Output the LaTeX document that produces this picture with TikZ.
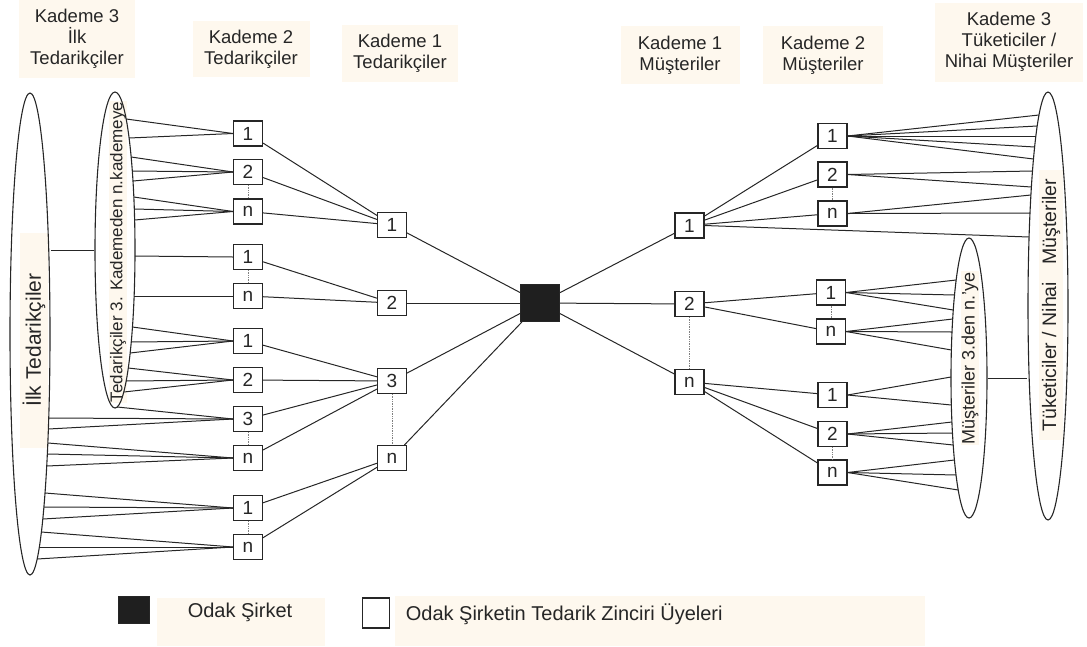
\documentclass[tikz,border=0pt]{standalone}
\usepackage{fontspec}
\setmainfont{Liberation Sans}
\usepackage{tikz}
\usetikzlibrary{arrows,shapes.geometric}
\definecolor{krem}{RGB}{254,248,238}

\begin{document}
\begin{tikzpicture}[x=1pt,y=-1pt,line width=1pt,color=black!85,
	kutu/.style={draw,fill=white,minimum width=29,minimum height=25,inner sep=0pt,line width=1.1pt,font=\fontsize{19}{19}\selectfont},
	odak/.style={draw,fill=black!88,minimum width=39,minimum height=37},
	baslik/.style={fill=krem,align=center,inner sep=0pt,font=\fontsize{18.5}{21}\selectfont},
	elips/.style={draw,ellipse,inner sep=0pt,line width=1.1pt},
	etiket/.style={fill=krem,rotate=90,inner sep=1pt},
	nokta/.style={densely dotted,draw=gray,line width=0.7pt}]
	\useasboundingbox (0,0) rectangle (1087,646);

	% basliklar
	\node[baslik,minimum width=116,minimum height=78] (h1) at (77,39) {Kademe 3\\İlk\\Tedarikçiler};
	\node[baslik,minimum width=117,minimum height=56] (h2) at (251,49) {Kademe 2\\Tedarikçiler};
	\node[baslik,minimum width=116,minimum height=57] (h3) at (400,53) {Kademe 1\\Tedarikçiler};
	\node[baslik,minimum width=119,minimum height=58] (h4) at (680,55) {Kademe 1\\Müşteriler};
	\node[baslik,minimum width=120,minimum height=58] (h5) at (823,55) {Kademe 2\\Müşteriler};
	\node[baslik,minimum width=148,minimum height=79] (h6) at (1009,42) {Kademe 3\\Tüketiciler /\\Nihai Müşteriler};

	% elips yazilari
	\node[etiket,font=\fontsize{21}{21}\selectfont,minimum width=215,minimum height=28] (ilkyazi) at (34,340) {İlk Tedarikçiler};
	\node[etiket,font=\fontsize{17}{17}\selectfont] (arayazi) at (118,252) {Tedarikçiler 3. Kademeden n.kademeye};
	\node[etiket,font=\fontsize{19.5}{19.5}\selectfont,minimum width=270,minimum height=24] (tukyazi) at (1051,305) {Tüketiciler / Nihai\hspace{0.9em}Müşteriler};
	\node[etiket,font=\fontsize{18}{18}\selectfont] (sonyazi) at (970,358) {Müşteriler 3.den n.'ye};

	% elipsler
	\node[elips,minimum width=40,minimum height=482] (ilk) at (30,334) {};
	\node[elips,minimum width=40,minimum height=316] (ara) at (115,250) {};
	\node[elips,minimum width=40,minimum height=428] (tuk) at (1048,306) {};
	\node[elips,minimum width=36,minimum height=280] (son) at (969,378) {};

	% kademe 2 tedarikciler
	\node[kutu] (ta1) at (248,133.5) {1};
	\node[kutu] (ta2) at (248,172) {2};
	\node[kutu] (tan) at (248,211.5) {n};
	\node[kutu] (tb1) at (248,257) {1};
	\node[kutu] (tbn) at (248,296) {n};
	\node[kutu] (tc1) at (248,341) {1};
	\node[kutu] (tc2) at (248,380) {2};
	\node[kutu] (tc3) at (248,419) {3};
	\node[kutu] (tcn) at (248,458) {n};
	\node[kutu] (td1) at (248,508) {1};
	\node[kutu] (tdn) at (248,547) {n};

	% kademe 1 tedarikciler
	\node[kutu] (t1) at (392,225) {1};
	\node[kutu] (t2) at (392,303) {2};
	\node[kutu] (t3) at (392,381) {3};
	\node[kutu] (tn) at (392,458) {n};

	\node[odak] (odak) at (540,303) {};

	% kademe 1 musteriler
	\node[kutu] (m1) at (689.5,225.5) {1};
	\node[kutu] (m2) at (689.5,304) {2};
	\node[kutu] (mn) at (689.5,382) {n};

	% kademe 2 musteriler
	\node[kutu] (ma1) at (832.5,136) {1};
	\node[kutu] (ma2) at (832.5,174.5) {2};
	\node[kutu] (man) at (832.5,213.5) {n};
	\node[kutu] (mb1) at (831,292.5) {1};
	\node[kutu] (mbn) at (831,331.5) {n};
	\node[kutu] (mc1) at (832.5,395) {1};
	\node[kutu] (mc2) at (832.5,434) {2};
	\node[kutu] (mcn) at (832.5,472.5) {n};

	% zincir baglantilari
	\foreach \a/\b in {ta1/t1,ta2/t1,tan/t1,tb1/t2,tbn/t2,tc1/t3,tc2/t3,tc3/t3,tcn/t3,td1/tn,tdn/tn,
		t1/odak,t2/odak,t3/odak,tn/odak,odak/m1,odak/m2,odak/mn,
		m1/ma1,m1/ma2,m1/man,m2/mb1,m2/mbn,mn/mc1,mn/mc2,mn/mcn}
		\draw (\a) -- (\b);
	\foreach \a/\b in {ta2/tan,tb1/tbn,tc3/tcn,td1/tdn,t3/tn,m2/mn,ma2/man,mb1/mbn,mc2/mcn}
		\draw[nokta] (\a) -- (\b);

	% elipslerden kutulara
	\foreach \y/\k in {119/ta1,138/ta1,157/ta2,171/ta2,181/ta2,197/tan,209/tan,220/tan,256/tb1,296/tbn,
		327/tc1,342/tc1,353/tc1,368/tc2,381/tc2,392/tc2,407/tc3}{
		\pgfmathsetmacro\d{(\y-250)/158}
		\pgfmathsetmacro\ex{115+20*sqrt(max(0,1-\d*\d))}
		\coordinate (u) at (\ex,\y);
		\draw (u) -- (\k.west);
	}
	\foreach \y/\k in {418/tc3,429/tc3,443/tcn,454/tcn,466/tcn,493/td1,507/td1,519/td1,532/tdn,547/tdn,559/tdn}{
		\pgfmathsetmacro\d{(\y-334)/241}
		\pgfmathsetmacro\ex{30+20*sqrt(max(0,1-\d*\d))}
		\coordinate (u) at (\ex,\y);
		\draw (u) -- (\k.west);
	}
	\foreach \y/\k in {115/ma1,126/ma1,136/ma1,147/ma1,159/ma1,171/ma2,187/ma2,195/man,213/man,237/m1}{
		\pgfmathsetmacro\d{(\y-306)/214}
		\pgfmathsetmacro\ex{1048-20*sqrt(max(0,1-\d*\d))}
		\coordinate (u) at (\ex,\y);
		\draw (\k.east) -- (u);
	}
	\foreach \y/\k in {280/mb1,295/mb1,310/mb1,319/mbn,332/mbn,350/mbn,377/mc1,405/mc1,
		422/mc2,433/mc2,445/mc2,460/mcn,475/mcn,490/mcn}{
		\pgfmathsetmacro\d{(\y-378)/140}
		\pgfmathsetmacro\ex{969-18*sqrt(max(0,1-\d*\d))}
		\coordinate (u) at (\ex,\y);
		\draw (\k.east) -- (u);
	}
	\draw (ara.west) -- (ilk.east |- ara.west);
	\draw (son.east) -- (tuk.west |- son.east);

	% aciklama
	\fill[krem] (157,598) rectangle (325,646);
	\fill[krem] (395,596) rectangle (925,646);
	\node[odak,minimum width=31,minimum height=27] (lodak) at (134,610) {};
	\node[font=\fontsize{20}{20}\selectfont] (lodakyazi) at (240,612) {Odak Şirket};
	\node[kutu,minimum width=27,minimum height=30] (luye) at (376,613) {};
	\node[anchor=west,font=\fontsize{20}{20}\selectfont] (luyeyazi) at (402,614) {Odak Şirketin Tedarik Zinciri Üyeleri};
\end{tikzpicture}
\end{document}
